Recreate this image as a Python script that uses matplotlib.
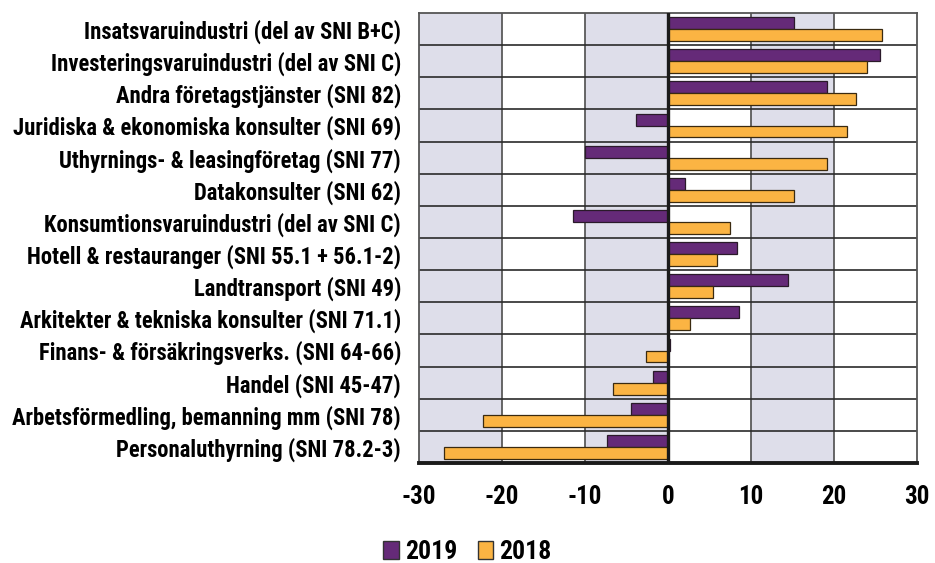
import numpy as np
import matplotlib
matplotlib.use("Agg")
from matplotlib import pyplot as plt
from matplotlib.patches import Patch

# data, top to bottom as in the picture
kategorier = [
    "Insatsvaruindustri (del av SNI B+C)",
    "Investeringsvaruindustri (del av SNI C)",
    "Andra företagstjänster (SNI 82)",
    "Juridiska & ekonomiska konsulter (SNI 69)",
    "Uthyrnings- & leasingföretag (SNI 77)",
    "Datakonsulter (SNI 62)",
    "Konsumtionsvaruindustri (del av SNI C)",
    "Hotell & restauranger (SNI 55.1 + 56.1-2)",
    "Landtransport (SNI 49)",
    "Arkitekter & tekniska konsulter (SNI 71.1)",
    "Finans- & försäkringsverks. (SNI 64-66)",
    "Handel (SNI 45-47)",
    "Arbetsförmedling, bemanning mm (SNI 78)",
    "Personaluthyrning (SNI 78.2-3)",
]
v2019 = [15.2, 25.6, 19.2, -3.9, -10.0, 2.1, -11.4, 8.3, 14.4, 8.6, 0.3, -1.8, -4.5, -7.4]
v2018 = [25.8, 24.0, 22.6, 21.6, 19.2, 15.2, 7.5, 5.9, 5.4, 2.7, -2.6, -6.6, -22.3, -27.0]
xticks = [-30, -20, -10, 0, 10, 20, 30]

lila = "#652a78"
orange = "#fbb443"
band = "#dedeea"

plt.rcParams['font.family'] = ['Roboto Condensed', 'DejaVu Sans']
plt.rcParams['font.weight'] = 'bold'

fig = plt.figure(figsize=(9.35, 5.63), dpi=100)
ax = fig.add_axes([419/935, 1-463/563, (917-419)/935, (463-13)/563])

n = len(kategorier)
y = np.arange(n)
h = 0.37

# graa band
for i in range(len(xticks)-1):
    if i % 2 == 0:
        ax.axvspan(xticks[i], xticks[i+1], color=band, zorder=0, lw=0)

ax.barh(y - h/2, v2019, height=h, color=lila, edgecolor="#2a1a2a", lw=0.9, zorder=3)
ax.barh(y + h/2, v2018, height=h, color=orange, edgecolor="#3a2a10", lw=0.9, zorder=3)

ax.set_xlim(-30, 30)
ax.set_ylim(n - 0.5, -0.5)
ax.set_xticks(xticks)
ax.set_xticklabels([str(t) for t in xticks], fontsize=18)
ax.set_yticks(y)
ax.set_yticklabels(kategorier, fontsize=16.3)
ax.tick_params(length=0, pad=13)
ax.tick_params(axis='x', pad=16)

for t in xticks[1:-1]:
    ax.axvline(t, color="#5a5a5a", lw=1.3, zorder=1)
for b in np.arange(0.5, n - 0.5):
    ax.axhline(b, color="#2a2a2a", lw=1.2, zorder=1)
ax.axvline(0, color="#1a1a1a", lw=2.4, zorder=4)

for s in ax.spines.values():
    s.set_color("#555555")
    s.set_linewidth(1.3)
ax.spines['bottom'].set_color("#1a1a1a")
ax.spines['bottom'].set_linewidth(2.8)

handles = [Patch(facecolor=lila, edgecolor="#333333"), Patch(facecolor=orange, edgecolor="#333333")]
fig.legend(handles, ["2019", "2018"], loc="center", bbox_to_anchor=(0.5, 1-552/563),
           ncol=2, frameon=False, fontsize=18.5, handlelength=0.6, handleheight=0.7,
           handletextpad=0.25, columnspacing=0.8, borderpad=0)

fig.savefig("out.png", dpi=100)
